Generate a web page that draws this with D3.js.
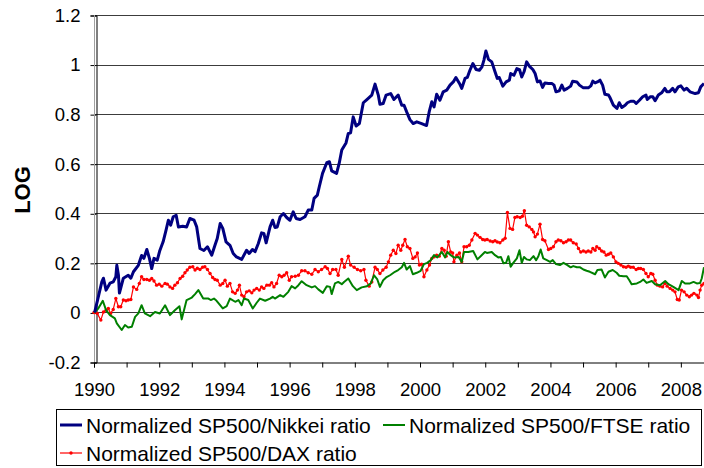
<!DOCTYPE html>
<html><head><meta charset="utf-8">
<script src="https://cdn.jsdelivr.net/npm/d3@7/dist/d3.min.js"></script>
<style>
html,body{margin:0;padding:0;background:#fff;}
svg{display:block;font-family:"Liberation Sans",Arial,sans-serif;}
</style></head>
<body><svg id="chart" width="704" height="468"></svg>
<script>
// ---- data ----
const yTicks = [-0.2, 0, 0.2, 0.4, 0.6, 0.8, 1.0, 1.2];
const xTickYears = [1990,1991,1992,1993,1994,1995,1996,1997,1998,1999,2000,2001,2002,2003,2004,2005,2006,2007,2008];
const seriesNames = ["Normalized SP500/Nikkei ratio", "Normalized SP500/FTSE ratio", "Normalized SP500/DAX ratio"];

const nikkeiDates = [
1990.02,1990.24,1990.29,1990.37,1990.49,1990.59,1990.67,1990.70,1990.75,1990.78,
1990.90,1991.05,1991.13,1991.21,1991.36,1991.46,1991.53,1991.62,1991.70,1991.77,
1991.84,1991.94,1992.02,1992.12,1992.21,1992.28,1992.35,1992.43,1992.52,1992.59,
1992.72,1992.84,1992.94,1993.07,1993.15,1993.25,1993.37,1993.48,1993.61,1993.71,
1993.78,1993.87,1993.95,1994.05,1994.17,1994.27,1994.37,1994.53,1994.68,1994.76,
1994.86,1994.94,1995.04,1995.14,1995.21,1995.28,1995.40,1995.48,1995.55,1995.62,
1995.71,1995.81,1995.91,1996.01,1996.11,1996.20,1996.32,1996.47,1996.57,1996.68,
1996.75,1996.85,1996.91,1997.01,1997.14,1997.22,1997.29,1997.44,1997.52,1997.60,
1997.73,1997.80,1997.87,1997.95,1998.04,1998.14,1998.26,1998.37,1998.52,1998.62,
1998.72,1998.77,1998.87,1998.96,1999.10,1999.20,1999.33,1999.44,1999.51,1999.59,
1999.69,1999.79,1999.90,2000.05,2000.20,2000.28,2000.36,2000.43,2000.51,2000.61,
2000.71,2000.82,2000.92,2001.02,2001.10,2001.21,2001.28,2001.38,2001.45,2001.53,
2001.62,2001.72,2001.82,2001.90,2001.96,2002.02,2002.10,2002.20,2002.30,2002.37,
2002.43,2002.54,2002.64,2002.74,2002.78,2002.88,2002.97,2003.05,2003.12,2003.19,
2003.27,2003.35,2003.46,2003.53,2003.60,2003.68,2003.76,2003.83,2003.94,2004.04,
2004.11,2004.17,2004.27,2004.35,2004.42,2004.52,2004.62,2004.68,2004.81,2004.89,
2005.01,2005.16,2005.24,2005.30,2005.37,2005.44,2005.52,2005.60,2005.67,2005.78,
2005.83,2005.93,2006.04,2006.11,2006.19,2006.29,2006.36,2006.46,2006.56,2006.63,
2006.73,2006.83,2006.93,2006.97,2007.06,2007.14,2007.21,2007.31,2007.41,2007.51,
2007.57,2007.65,2007.75,2007.82,2007.92,2008.00,2008.10,2008.18,2008.28,2008.44,
2008.54,2008.61,2008.71];
const nikkeiValues = [
0.000,0.123,0.138,0.090,0.118,0.123,0.144,0.190,0.150,0.078,
0.138,0.150,0.138,0.164,0.190,0.230,0.218,0.254,0.218,0.177,
0.218,0.211,0.250,0.285,0.332,0.372,0.352,0.386,0.392,0.345,
0.348,0.345,0.379,0.372,0.345,0.258,0.250,0.265,0.231,0.271,
0.298,0.359,0.339,0.285,0.271,0.238,0.224,0.214,0.251,0.238,
0.254,0.245,0.278,0.321,0.319,0.281,0.345,0.372,0.343,0.345,
0.386,0.399,0.383,0.372,0.406,0.379,0.375,0.386,0.413,0.413,
0.460,0.473,0.507,0.561,0.604,0.608,0.571,0.561,0.601,0.655,
0.684,0.722,0.725,0.789,0.752,0.762,0.846,0.859,0.877,0.921,
0.877,0.840,0.843,0.877,0.883,0.859,0.877,0.836,0.836,0.809,
0.778,0.762,0.769,0.762,0.754,0.809,0.850,0.829,0.880,0.856,
0.890,0.897,0.917,0.930,0.948,0.924,0.904,0.944,0.948,0.977,
1.004,0.980,0.977,0.991,1.018,1.055,1.021,1.011,0.971,0.944,
0.948,0.913,0.930,0.937,0.964,0.957,0.984,0.980,0.950,0.971,
1.011,0.994,0.980,0.964,0.930,0.934,0.908,0.926,0.924,0.924,
0.917,0.890,0.894,0.917,0.897,0.904,0.913,0.933,0.930,0.917,
0.906,0.906,0.914,0.933,0.926,0.930,0.937,0.917,0.880,0.877,
0.866,0.836,0.823,0.846,0.827,0.836,0.846,0.852,0.852,0.843,
0.856,0.870,0.877,0.859,0.870,0.870,0.854,0.877,0.886,0.904,
0.890,0.890,0.904,0.890,0.910,0.914,0.897,0.904,0.890,0.883,
0.886,0.910,0.924];

const ftseDates = [
1990.00,1990.03,1990.13,1990.27,1990.37,1990.49,1990.64,1990.70,1990.85,1990.95,
1991.05,1991.16,1991.26,1991.36,1991.46,1991.56,1991.72,1991.87,1992.02,1992.18,
1992.33,1992.48,1992.62,1992.69,1992.84,1993.00,1993.10,1993.20,1993.35,1993.51,
1993.58,1993.68,1993.76,1993.95,1994.07,1994.17,1994.33,1994.43,1994.53,1994.60,
1994.73,1994.87,1994.99,1995.09,1995.25,1995.40,1995.48,1995.55,1995.71,1995.81,
1995.96,1996.06,1996.17,1996.27,1996.37,1996.52,1996.68,1996.78,1996.88,1997.02,
1997.14,1997.24,1997.29,1997.39,1997.49,1997.60,1997.67,1997.80,1997.94,1998.06,
1998.21,1998.37,1998.49,1998.59,1998.69,1998.77,1998.87,1998.96,1999.08,1999.23,
1999.33,1999.44,1999.51,1999.59,1999.69,1999.78,1999.90,2000.02,2000.12,2000.22,
2000.33,2000.43,2000.53,2000.67,2000.77,2000.84,2000.94,2001.04,2001.18,2001.28,
2001.35,2001.48,2001.63,2001.76,2001.89,2001.99,2002.05,2002.20,2002.30,2002.40,
2002.48,2002.56,2002.64,2002.71,2002.78,2002.86,2002.97,2003.05,2003.12,2003.19,
2003.27,2003.37,2003.48,2003.56,2003.63,2003.70,2003.78,2003.89,2003.99,2004.07,
2004.17,2004.29,2004.40,2004.52,2004.62,2004.70,2004.81,2004.91,2005.01,2005.11,
2005.21,2005.37,2005.44,2005.57,2005.67,2005.78,2005.91,2006.03,2006.11,2006.24,
2006.34,2006.42,2006.49,2006.65,2006.75,2006.85,2006.95,2007.11,2007.21,2007.36,
2007.52,2007.62,2007.77,2007.93,2008.03,2008.13,2008.28,2008.39,2008.49,2008.59,
2008.64,2008.71];
const ftseValues = [
0.000,0.002,0.016,0.047,0.009,-0.011,-0.024,-0.044,-0.071,-0.051,
-0.061,-0.058,-0.018,-0.004,0.029,-0.004,-0.015,0.002,-0.004,0.029,
-0.011,0.009,0.025,-0.028,0.050,0.060,0.074,0.090,0.056,0.056,
0.050,0.056,0.047,0.016,0.025,0.056,0.043,0.050,0.029,0.056,
0.050,0.016,0.039,0.056,0.047,0.056,0.063,0.056,0.070,0.063,
0.083,0.106,0.097,0.110,0.126,0.110,0.101,0.106,0.093,0.079,
0.106,0.103,0.074,0.117,0.123,0.114,0.123,0.137,0.106,0.090,
0.101,0.106,0.117,0.150,0.133,0.103,0.130,0.141,0.150,0.164,
0.171,0.182,0.200,0.173,0.187,0.154,0.160,0.168,0.195,0.200,
0.211,0.231,0.222,0.244,0.222,0.244,0.231,0.222,0.224,0.204,
0.244,0.244,0.248,0.214,0.231,0.244,0.240,0.244,0.231,0.222,
0.224,0.198,0.200,0.227,0.184,0.200,0.218,0.251,0.200,0.224,
0.214,0.211,0.227,0.211,0.227,0.254,0.218,0.211,0.204,0.211,
0.195,0.191,0.200,0.191,0.182,0.187,0.182,0.182,0.173,0.168,
0.164,0.154,0.171,0.173,0.141,0.164,0.171,0.160,0.148,0.146,
0.146,0.130,0.114,0.117,0.123,0.133,0.119,0.127,0.114,0.110,
0.127,0.114,0.103,0.090,0.127,0.117,0.117,0.123,0.117,0.119,
0.137,0.182];

const daxDates = [
1990.00,1990.10,1990.21,1990.29,1990.37,1990.44,1990.51,1990.59,1990.67,1990.75,
1990.82,1990.90,1990.98,1991.05,1991.13,1991.21,1991.31,1991.39,1991.46,1991.53,
1991.62,1991.70,1991.77,1991.84,1991.92,1992.00,1992.08,1992.18,1992.25,1992.33,
1992.41,1992.48,1992.56,1992.64,1992.72,1992.79,1992.86,1992.94,1993.03,1993.10,
1993.17,1993.25,1993.33,1993.40,1993.48,1993.56,1993.64,1993.71,1993.78,1993.87,
1993.95,1994.02,1994.09,1994.17,1994.25,1994.33,1994.40,1994.46,1994.53,1994.60,
1994.68,1994.76,1994.84,1994.91,1994.99,1995.07,1995.14,1995.21,1995.30,1995.38,
1995.45,1995.52,1995.60,1995.68,1995.76,1995.83,1995.91,1995.99,1996.06,1996.17,
1996.27,1996.37,1996.47,1996.57,1996.68,1996.78,1996.88,1996.98,1997.09,1997.16,
1997.24,1997.32,1997.42,1997.49,1997.60,1997.68,1997.80,1997.87,1997.98,1998.08,
1998.18,1998.28,1998.34,1998.44,1998.52,1998.62,1998.69,1998.77,1998.86,1998.96,
1999.03,1999.10,1999.18,1999.26,1999.33,1999.41,1999.47,1999.54,1999.61,1999.69,
1999.78,1999.85,1999.92,1999.98,2000.05,2000.12,2000.21,2000.29,2000.36,2000.43,
2000.51,2000.59,2000.67,2000.74,2000.80,2000.87,2000.94,2001.00,2001.04,2001.13,
2001.21,2001.28,2001.35,2001.43,2001.51,2001.59,2001.69,2001.76,2001.84,2001.92,
2001.99,2002.06,2002.15,2002.23,2002.30,2002.37,2002.45,2002.54,2002.61,2002.68,
2002.76,2002.84,2002.91,2002.98,2003.07,2003.14,2003.20,2003.27,2003.35,2003.43,
2003.48,2003.53,2003.60,2003.68,2003.76,2003.83,2003.94,2004.01,2004.09,2004.17,
2004.24,2004.32,2004.40,2004.48,2004.55,2004.62,2004.70,2004.79,2004.86,2004.93,
2005.01,2005.09,2005.16,2005.24,2005.30,2005.37,2005.42,2005.50,2005.57,2005.64,
2005.71,2005.78,2005.85,2005.93,2006.01,2006.08,2006.16,2006.24,2006.32,2006.39,
2006.46,2006.54,2006.63,2006.70,2006.77,2006.85,2006.93,2007.00,2007.08,2007.14,
2007.21,2007.28,2007.36,2007.44,2007.51,2007.58,2007.67,2007.75,2007.82,2007.89,
2007.95,2008.02,2008.10,2008.18,2008.26,2008.33,2008.40,2008.49,2008.54,2008.59,
2008.64,2008.71];
const daxValues = [
0.000,-0.004,-0.031,0.002,0.009,0.016,-0.004,0.012,0.056,0.023,
0.023,0.050,0.047,0.050,0.052,0.103,0.093,0.117,0.144,0.133,
0.133,0.130,0.137,0.127,0.110,0.114,0.106,0.117,0.114,0.103,
0.097,0.110,0.120,0.137,0.146,0.160,0.171,0.182,0.184,0.171,
0.178,0.173,0.182,0.184,0.173,0.157,0.141,0.133,0.130,0.110,
0.117,0.130,0.106,0.117,0.083,0.077,0.090,0.110,0.070,0.063,
0.083,0.087,0.079,0.090,0.097,0.090,0.103,0.097,0.110,0.110,
0.120,0.103,0.117,0.150,0.144,0.150,0.160,0.130,0.144,0.146,
0.150,0.168,0.168,0.160,0.154,0.173,0.164,0.173,0.184,0.177,
0.157,0.173,0.173,0.150,0.214,0.182,0.227,0.191,0.182,0.173,
0.168,0.173,0.130,0.106,0.123,0.182,0.173,0.157,0.171,0.182,
0.204,0.231,0.251,0.238,0.271,0.251,0.271,0.294,0.265,0.258,
0.218,0.224,0.240,0.191,0.195,0.144,0.171,0.191,0.218,0.224,
0.231,0.227,0.258,0.251,0.227,0.285,0.244,0.240,0.204,0.231,
0.240,0.204,0.265,0.265,0.271,0.292,0.319,0.312,0.303,0.294,
0.292,0.294,0.288,0.285,0.289,0.284,0.281,0.292,0.299,0.403,
0.339,0.335,0.383,0.386,0.383,0.388,0.410,0.352,0.345,0.335,
0.325,0.305,0.316,0.356,0.294,0.289,0.254,0.258,0.265,0.285,
0.292,0.289,0.281,0.285,0.292,0.292,0.281,0.276,0.258,0.244,
0.248,0.244,0.248,0.244,0.258,0.251,0.265,0.258,0.248,0.244,
0.231,0.235,0.240,0.224,0.204,0.198,0.191,0.184,0.182,0.187,
0.182,0.182,0.173,0.177,0.177,0.173,0.157,0.144,0.157,0.154,
0.130,0.110,0.106,0.103,0.117,0.106,0.097,0.090,0.083,0.052,
0.050,0.090,0.083,0.070,0.063,0.070,0.077,0.070,0.060,0.090,
0.110,0.117];

// ---- layout ----
const svg = d3.select("#chart");
const plot = {left: 94, right: 704, top: 15, bottom: 362};
const x = d3.scaleLinear().domain([1990, 2008.71]).range([plot.left, plot.right]);
const y = d3.scaleLinear().domain([-0.2, 1.2]).range([plot.bottom, plot.top]);
const font = '"Liberation Sans", Arial, sans-serif';

// gridlines
svg.append("g").selectAll("line").data(yTicks.filter(v => v > -0.2)).join("line")
  .attr("x1", plot.left).attr("x2", plot.right)
  .attr("y1", d => Math.round(y(d)) + 0.5).attr("y2", d => Math.round(y(d)) + 0.5)
  .attr("stroke", "#3c3c3c").attr("stroke-width", 1);

// y axis
const yAxis = svg.append("g").attr("transform", `translate(${plot.left + 2.5},0.5)`)
  .call(d3.axisLeft(y).tickValues(yTicks).tickSize(6).tickPadding(10)
    .tickFormat(d => String(+d.toFixed(1))));
yAxis.select(".domain").attr("stroke", "#000");
yAxis.selectAll(".tick line").attr("stroke", "#000");
yAxis.selectAll("text").attr("font-family", font).attr("font-size", "18.5px").attr("fill", "#000");
svg.append("line").attr("x1", plot.left + 0.5).attr("x2", plot.left + 0.5)
  .attr("y1", plot.top).attr("y2", plot.bottom).attr("stroke", "#a0a0a0");

// x axis
const xAxis = svg.append("g").attr("transform", `translate(0,${plot.bottom + 0.5})`)
  .call(d3.axisBottom(x).tickValues(xTickYears).tickSize(5).tickPadding(15)
    .tickFormat(d => d % 2 === 0 ? String(d) : ""));
xAxis.select(".domain").attr("stroke", "#000");
xAxis.selectAll(".tick line").attr("stroke", "#000");
xAxis.selectAll("text").attr("font-family", font).attr("font-size", "18.5px").attr("fill", "#000");

// y title
svg.append("text").attr("transform", "translate(30,190) rotate(-90)")
  .attr("text-anchor", "middle").attr("font-family", font)
  .attr("font-size", "22px").attr("font-weight", "bold").text("LOG");

// series
const line = d3.line().x(d => x(d[0])).y(d => y(d[1]));
const nikkei = d3.zip(nikkeiDates, nikkeiValues);
const ftse = d3.zip(ftseDates, ftseValues);
const dax = d3.zip(daxDates, daxValues);

svg.append("path").datum(dax).attr("d", line).attr("fill", "none")
  .attr("stroke", "#ff0000").attr("stroke-width", 1.2).attr("stroke-linejoin", "round");
svg.append("g").selectAll("circle").data(dax).join("circle")
  .attr("cx", d => x(d[0])).attr("cy", d => y(d[1])).attr("r", 1.7).attr("fill", "#ff0000");
svg.append("path").datum(ftse).attr("d", line).attr("fill", "none")
  .attr("stroke", "#008000").attr("stroke-width", 2).attr("stroke-linejoin", "round");
svg.append("path").datum(nikkei).attr("d", line).attr("fill", "none")
  .attr("stroke", "#000080").attr("stroke-width", 3).attr("stroke-linejoin", "round");

// legend
const lg = svg.append("g");
lg.append("rect").attr("x", 56.5).attr("y", 409.5).attr("width", 645).attr("height", 56)
  .attr("fill", "#fff").attr("stroke", "#000").attr("stroke-width", 1);
const legendItems = [
  {name: seriesNames[0], color: "#000080", w: 3, x0: 60, y0: 425, marker: false},
  {name: seriesNames[1], color: "#008000", w: 2, x0: 383, y0: 425, marker: false},
  {name: seriesNames[2], color: "#ff0000", w: 1.2, x0: 60, y0: 453, marker: true}
];
legendItems.forEach(it => {
  lg.append("line").attr("x1", it.x0).attr("x2", it.x0 + 22).attr("y1", it.y0).attr("y2", it.y0)
    .attr("stroke", it.color).attr("stroke-width", it.w);
  if (it.marker) lg.append("circle").attr("cx", it.x0 + 11).attr("cy", it.y0).attr("r", 1.7).attr("fill", it.color);
  lg.append("text").attr("x", it.x0 + 26).attr("y", it.y0 + 7.5)
    .attr("font-family", font).attr("font-size", "21px").attr("fill", "#000").text(it.name);
});
</script></body></html>
